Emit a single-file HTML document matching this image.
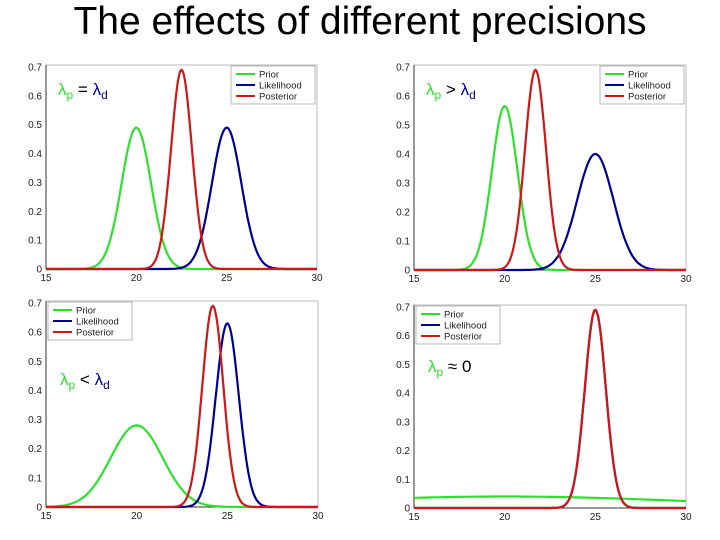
<!DOCTYPE html>
<html><head><meta charset="utf-8"><style>
body{margin:0;background:#fff;width:720px;height:540px;overflow:hidden;font-family:"Liberation Sans",sans-serif}
#title{position:absolute;left:0;top:-2px;width:720px;text-align:center;font-size:39px;line-height:48px;color:#000}
svg{position:absolute;left:0;top:0}
</style></head><body>
<div id="title">The effects of different precisions</div>
<svg id="s" width="720" height="540"></svg>
<script>
const xTicks=[15,20,25,30];
const yTicks=[0,0.1,0.2,0.3,0.4,0.5,0.6,0.7];
const seriesNames=["Prior","Likelihood","Posterior"];
const colors=["#2ee02e","#000090","#cc1818"];
// per panel: means and peak heights of prior, likelihood, posterior
const panelMeans=[[20,25,22.5],[20,25,21.7],[20,25,24.2],[20,25,25]];
const panelPeaks=[[0.49,0.49,0.69],[0.565,0.40,0.69],[0.28,0.63,0.69],[0.04,0.69,0.69]];
const panelLabels=[["λ","p"," = ","λ","d"],["λ","p"," > ","λ","d"],["λ","p"," < ","λ","d"],["λ","p"," ≈ 0","",""]];
const panels=[
 {x0:46,x1:317,y0:269,y1:67,leg:"right",lab:[58,95]},
 {x0:414,x1:686,y0:270,y1:67,leg:"right",lab:[426,95]},
 {x0:46,x1:318,y0:507,y1:303,leg:"left",lab:[60,385]},
 {x0:414,x1:686,y0:508,y1:307,leg:"left",lab:[428,372]}
];
const NS="http://www.w3.org/2000/svg";
const svg=document.getElementById('s');
function mk(t,a,p){const e=document.createElementNS(NS,t);for(const k in a)e.setAttribute(k,a[k]);(p||svg).appendChild(e);return e;}
panels.forEach((P,pi)=>{
 const g=mk('g',{});
 
 
 const X=v=>P.x0+(v-15)/15*(P.x1-P.x0);
 const Y=v=>P.y0+v/0.7*(P.y1-P.y0);
 mk('rect',{x:P.x0,y:P.y1-2,width:P.x1-P.x0,height:P.y0-P.y1+2,fill:"none",stroke:"#bbb","stroke-width":1},g);
 mk('line',{x1:P.x0,y1:P.y1-2,x2:P.x0,y2:P.y0,stroke:"#333"},g);
 mk('line',{x1:P.x0,y1:P.y0,x2:P.x1,y2:P.y0,stroke:"#333"},g);
 xTicks.forEach(t=>{const tx=mk('text',{x:X(t),y:P.y0+12,"font-size":10,"text-anchor":"middle",fill:"#222"},g);tx.textContent=t;
  });
 yTicks.forEach(t=>{const tx=mk('text',{x:P.x0-4,y:Y(t)+3.5,"font-size":10,"text-anchor":"end",fill:"#222"},g);tx.textContent=t;
  });
 [0,1,2].forEach(si=>{
  const m=panelMeans[pi][si],pk=panelPeaks[pi][si],sd=1/(pk*Math.sqrt(2*Math.PI));
  let d="";for(let i=0;i<=300;i++){const v=15+15*i/300;const y=pk*Math.exp(-0.5*((v-m)/sd)**2);d+=(i?"L":"M")+X(v).toFixed(1)+","+Y(y).toFixed(1);}
  const p=mk('path',{d:d,fill:"none",stroke:colors[si],"stroke-width":2.2},g);
  
  
 });
 const lw=84,lh=38,lx=P.leg=="right"?P.x1-lw-2:P.x0+2,ly=P.y1-1;
 const lg=mk('g',{},g);
 
 
 mk('rect',{x:lx,y:ly,width:lw,height:lh,fill:"#fff",stroke:"#999","stroke-width":0.7},lg);
 seriesNames.forEach((n,i)=>{const yy=ly+8+i*11;
  mk('line',{x1:lx+5,y1:yy,x2:lx+24,y2:yy,stroke:colors[i],"stroke-width":2},lg);
  const t=mk('text',{x:lx+28,y:yy+3.5,"font-size":9.5,fill:"#222"},lg);t.textContent=n;
  });
 const L=panelLabels[pi];
 const t=mk('text',{x:P.lab[0],y:P.lab[1],"font-size":17,fill:"#000"},g);
 
 const parts=[[L[0],"#2ee02e",0],[L[1],"#2ee02e",4],[L[2],"#000",-4],[L[3],"#000090",0],[L[4],"#000090",4]];
 parts.forEach(([s,c,dy])=>{if(!s)return;const ts=mk('tspan',{fill:c,dy:dy,"font-size":dy>0?12:17},t);ts.textContent=s;});
});
</script>
</body></html>
